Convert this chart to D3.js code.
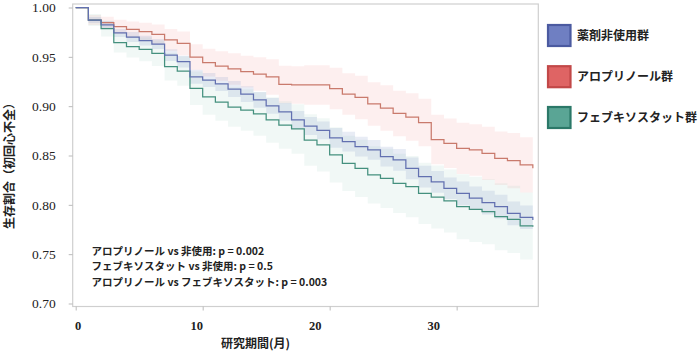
<!DOCTYPE html>
<html><head><meta charset="utf-8">
<script src="https://cdn.jsdelivr.net/npm/d3@7"></script>
<style>body{margin:0;background:#fff} svg{display:block}</style>
</head><body><svg id="c" width="700" height="352"></svg>
<script>
// ---- data ----
const months = [0,1,2,3,4,5,6,7,8,9,10,11,12,13,14,15,16,17,18,19,20,21,22,23,24,25,26,27,28,29,30,31,32,33,34,35,36];
const seriesNames = ["薬剤非使用群","アロプリノール群","フェブキソスタット群"];
// 薬剤非使用群
const noneSurv  = [1.000,0.9873,0.9823,0.9742,0.9701,0.9664,0.9630,0.9518,0.9451,0.9298,0.9265,0.9225,0.9174,0.9123,0.9063,0.9002,0.8941,0.8860,0.8799,0.8754,0.8678,0.8640,0.8590,0.8556,0.8488,0.8455,0.8370,0.8285,0.8232,0.8168,0.8117,0.8067,0.8022,0.7981,0.7914,0.7874,0.7846];
const noneUpper = [1.000,0.9903,0.9863,0.9782,0.9751,0.9714,0.9680,0.9578,0.9511,0.9368,0.9335,0.9295,0.9254,0.9203,0.9143,0.9082,0.9031,0.8950,0.8889,0.8844,0.8778,0.8740,0.8690,0.8656,0.8588,0.8565,0.8480,0.8395,0.8342,0.8278,0.8237,0.8187,0.8142,0.8101,0.8034,0.7994,0.7966];
const noneLower = [1.000,0.9843,0.9783,0.9702,0.9651,0.9614,0.9580,0.9458,0.9391,0.9228,0.9195,0.9155,0.9094,0.9043,0.8983,0.8922,0.8851,0.8770,0.8709,0.8664,0.8578,0.8540,0.8490,0.8456,0.8388,0.8345,0.8260,0.8175,0.8122,0.8058,0.7997,0.7947,0.7902,0.7861,0.7794,0.7754,0.7726];
// アロプリノール群
const alloSurv  = [1.000,0.9873,0.9846,0.9805,0.9779,0.9755,0.9728,0.9671,0.9637,0.9498,0.9441,0.9407,0.9377,0.9351,0.9326,0.9296,0.9220,0.9215,0.9215,0.9215,0.9179,0.9123,0.9088,0.9022,0.8981,0.8926,0.8890,0.8834,0.8662,0.8624,0.8573,0.8556,0.8522,0.8472,0.8447,0.8404,0.8370];
const alloUpper = [1.000,0.9923,0.9906,0.9875,0.9859,0.9845,0.9828,0.9781,0.9757,0.9628,0.9581,0.9557,0.9537,0.9511,0.9496,0.9476,0.9410,0.9405,0.9415,0.9415,0.9389,0.9333,0.9308,0.9242,0.9211,0.9156,0.9130,0.9074,0.8912,0.8874,0.8833,0.8816,0.8792,0.8742,0.8727,0.8684,0.8650];
const alloLower = [1.000,0.9823,0.9786,0.9735,0.9699,0.9665,0.9628,0.9561,0.9517,0.9368,0.9301,0.9257,0.9217,0.9191,0.9156,0.9116,0.9030,0.9025,0.9015,0.9015,0.8969,0.8913,0.8868,0.8802,0.8751,0.8696,0.8650,0.8594,0.8412,0.8374,0.8313,0.8296,0.8252,0.8202,0.8167,0.8124,0.8090];
// フェブキソスタット群
const febuSurv  = [1.000,0.9873,0.9785,0.9643,0.9603,0.9576,0.9536,0.9400,0.9356,0.9181,0.9093,0.9042,0.8991,0.8961,0.8921,0.8860,0.8809,0.8769,0.8657,0.8607,0.8506,0.8421,0.8370,0.8303,0.8269,0.8218,0.8184,0.8117,0.8079,0.8039,0.7981,0.7954,0.7930,0.7880,0.7853,0.7786,0.7779];
const febuUpper = [1.000,0.9933,0.9865,0.9743,0.9713,0.9696,0.9666,0.9540,0.9506,0.9351,0.9273,0.9232,0.9191,0.9171,0.9141,0.9090,0.9049,0.9019,0.8917,0.8877,0.8786,0.8701,0.8660,0.8593,0.8569,0.8518,0.8494,0.8427,0.8399,0.8359,0.8311,0.8284,0.8260,0.8220,0.8193,0.8126,0.8119];
const febuLower = [1.000,0.9813,0.9705,0.9543,0.9493,0.9456,0.9406,0.9260,0.9206,0.9011,0.8913,0.8852,0.8791,0.8751,0.8701,0.8630,0.8569,0.8519,0.8397,0.8337,0.8226,0.8141,0.8080,0.8013,0.7969,0.7918,0.7874,0.7807,0.7759,0.7719,0.7651,0.7624,0.7600,0.7540,0.7513,0.7446,0.7439];

const yTicks = [0.70,0.75,0.80,0.85,0.90,0.95,1.00];
const xTicks = [0,10,20,30];
const pLabels = ["アロプリノール vs 非使用: p = 0.002","フェブキソスタット vs 非使用: p = 0.5","アロプリノール vs フェブキソスタット: p = 0.003"];

// ---- styles ----
const lineCol = ["#6270b0","#c97a6c","#44907e"];
const bandCol = ["rgba(130,150,200,0.18)","rgba(240,150,150,0.15)","rgba(160,205,195,0.15)"];
const boxFill = ["#6f7fc2","#df6464","#5aa595"];
const boxStroke = ["#4b5aa0","#c24848","#2b7868"];

const svg = d3.select("#c");
const L=72.7, R=538.3, T=4, B=306.5;
const x = d3.scaleLinear().domain([-0.236,36.43]).range([L,R]);
const y = d3.scaleLinear().domain([0.69696,1.00355]).range([B,T]);
const xLab = d3.scaleLinear().domain([0,30]).range([77.7,433.3]);

const series = [
  {surv:noneSurv, lo:noneLower, hi:noneUpper},
  {surv:alloSurv, lo:alloLower, hi:alloUpper},
  {surv:febuSurv, lo:febuLower, hi:febuUpper}
];

svg.append("defs").append("clipPath").attr("id","clip")
  .append("rect").attr("x",L).attr("y",T).attr("width",R-L).attr("height",B-T);

const g = svg.append("g").attr("clip-path","url(#clip)");
const area = d3.area().curve(d3.curveStepAfter).x(d=>x(d.m)).y0(d=>y(d.lo)).y1(d=>y(d.hi));
const line = d3.line().curve(d3.curveStepAfter).x(d=>x(d.m)).y(d=>y(d.v));

// bands: red, green, blue order
[1,2,0].forEach(i=>{
  const s=series[i];
  const pts = months.map((m,k)=>({m, lo:s.lo[k], hi:s.hi[k]}));
  g.append("path").attr("d",area(pts)).attr("fill",bandCol[i]).attr("stroke","none");
});
[1,2,0].forEach(i=>{
  const s=series[i];
  const pts = months.map((m,k)=>({m, v:s.surv[k]}));
  g.append("path").attr("d",line(pts)).attr("fill","none").attr("stroke",lineCol[i]).attr("stroke-width",1.25);
});

// frame
svg.append("rect").attr("x",L).attr("y",T).attr("width",R-L).attr("height",B-T)
  .attr("fill","none").attr("stroke","#cfcfcf").attr("stroke-width",1.2);

// y axis
const ya = svg.append("g").attr("transform",`translate(${L},0)`)
  .call(d3.axisLeft(y).tickValues(yTicks).tickSize(4).tickPadding(13).tickFormat(d3.format(".2f")));
ya.select(".domain").remove();
ya.selectAll("line").attr("stroke","#bbb");
ya.selectAll("text").attr("font-family","'Liberation Serif',serif").attr("font-size",13.5).attr("fill","#222");

// x axis ticks
const xa = svg.append("g").attr("transform",`translate(0,${B})`)
  .call(d3.axisBottom(x).tickValues(xTicks).tickSize(4).tickFormat(""));
xa.select(".domain").remove();
xa.selectAll("line").attr("stroke","#bbb");
// x tick labels
const xl = svg.append("g").attr("transform",`translate(0,${B})`)
  .call(d3.axisBottom(xLab).tickValues(xTicks).tickSize(0).tickPadding(15));
xl.select(".domain").remove();
xl.selectAll("text").attr("font-family","'Liberation Serif',serif").attr("font-weight","bold").attr("font-size",12.5).attr("fill","#222");

const jp = "'Noto Sans CJK JP','Noto Sans',sans-serif";
// axis titles
svg.append("text").attr("x",255.5).attr("y",347.5).attr("text-anchor","middle")
  .attr("font-family",jp).attr("font-weight","bold").attr("font-size",12).attr("fill","#222").text("研究期間(月)");
svg.append("text").attr("transform","translate(14,163) rotate(-90)").attr("text-anchor","middle")
  .attr("font-family",jp).attr("font-weight","bold").attr("font-size",12).attr("fill","#222").text("生存割合（初回心不全）");

// p-value annotations
pLabels.forEach((t,i)=>{
  svg.append("text").attr("x",91.5).attr("y",254.5+i*15.8)
    .attr("font-family",jp).attr("font-weight","bold").attr("font-size",10.5).attr("fill","#222").text(t);
});

// legend
const legY = [35.5,76.7,117.5];
seriesNames.forEach((n,i)=>{
  svg.append("rect").attr("x",548).attr("y",legY[i]-10.5).attr("width",22.5).attr("height",21)
    .attr("fill",boxFill[i]).attr("stroke",boxStroke[i]).attr("stroke-width",2.2);
  svg.append("text").attr("x",577).attr("y",legY[i]+4.3)
    .attr("font-family",jp).attr("font-weight","bold").attr("font-size",12).attr("fill","#222").text(n);
});
</script></body></html>
